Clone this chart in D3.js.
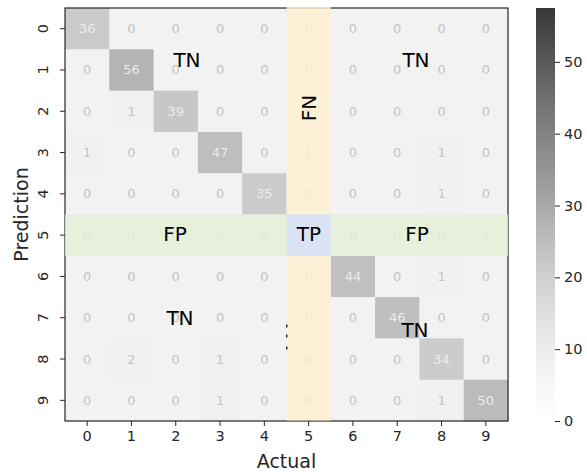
<!DOCTYPE html>
<html>
<head>
<meta charset="utf-8">
<script src="https://cdn.jsdelivr.net/npm/d3@7"></script>
<style>
  body { margin: 0; background: #fff; }
  svg { display: block; font-family: "DejaVu Sans", sans-serif; }
</style>
</head>
<body>
<svg id="chart" width="587" height="472"></svg>
<script>
// class labels (actual on x, prediction on y)
const classes = ['0', '1', '2', '3', '4', '5', '6', '7', '8', '9'];

// confusion matrix rows = prediction, cols = actual
const matrix = [
  [36, 0, 0, 0, 0, 0, 0, 0, 0, 0],
  [0, 56, 0, 0, 0, 0, 0, 0, 0, 0],
  [0, 1, 39, 0, 0, 0, 0, 0, 0, 0],
  [1, 0, 0, 47, 0, 1, 0, 0, 1, 0],
  [0, 0, 0, 0, 35, 0, 0, 0, 1, 0],
  [0, 0, 0, 0, 0, 0, 0, 0, 0, 1],
  [0, 0, 0, 0, 0, 0, 44, 0, 1, 0],
  [0, 0, 0, 0, 0, 0, 0, 46, 0, 0],
  [0, 2, 0, 1, 0, 0, 0, 0, 34, 0],
  [0, 0, 0, 1, 0, 0, 0, 0, 1, 50]
];

const cbarTicks = [0, 10, 20, 30, 40, 50];
const cbarMax = 57.5;

// annotation labels: [text, x px, baseline y px, rotated]
const regionLabels = [
  ['TN', 187, 67, false],
  ['TN', 416, 67, false],
  ['FN', 309, 108, true],
  ['FP', 175, 241, false],
  ['TP', 309, 241, false],
  ['FP', 417, 241, false],
  ['TN', 180, 325, false],
  ['TN', 415, 337, false]
];

const svg = d3.select('#chart');
const pl = 65, pr = 508, pt = 8, pb = 421;

const x = d3.scaleBand().domain(classes).range([pl, pr]);
const y = d3.scaleBand().domain(classes).range([pt, pb]);

const cellColor = d3.scaleLinear().domain([0, 56]).range(['#f2f2f2', '#b4b4b4']);

const cells = [];
matrix.forEach((row, i) => row.forEach((v, j) => cells.push({ r: classes[i], c: classes[j], v })));

svg.append('g').selectAll('rect')
  .data(cells)
  .join('rect')
  .attr('x', d => x(d.c))
  .attr('y', d => y(d.r))
  .attr('width', x.bandwidth() + 0.5)
  .attr('height', y.bandwidth() + 0.5)
  .attr('fill', d => cellColor(d.v));

svg.append('g').selectAll('text')
  .data(cells)
  .join('text')
  .attr('x', d => x(d.c) + x.bandwidth() / 2)
  .attr('y', d => y(d.r) + y.bandwidth() / 2)
  .attr('text-anchor', 'middle')
  .attr('dominant-baseline', 'central')
  .attr('font-size', 13)
  .attr('fill', d => d.v >= 20 ? '#ececec' : '#c4c4c4')
  .text(d => d.v);

// frame
svg.append('rect')
  .attr('x', pl).attr('y', pt)
  .attr('width', pr - pl).attr('height', pb - pt)
  .attr('fill', 'none').attr('stroke', '#262626').attr('stroke-width', 1.2);

// highlight bands for class 5
svg.append('rect')
  .attr('x', x('5')).attr('y', pt - 1)
  .attr('width', x.bandwidth()).attr('height', pb - pt + 0.5)
  .attr('fill', '#feefd1').attr('opacity', 0.82);
svg.append('rect')
  .attr('x', pl).attr('y', y('5'))
  .attr('width', pr - pl).attr('height', y.bandwidth())
  .attr('fill', '#e3efd6').attr('opacity', 0.82);
svg.append('rect')
  .attr('x', x('5')).attr('y', y('5'))
  .attr('width', x.bandwidth()).attr('height', y.bandwidth())
  .attr('fill', '#d9e3f3');

// small stray marks
[326, 336, 348].forEach(yy => {
  svg.append('rect').attr('x', x('5') - 0.5).attr('y', yy - 1.5)
    .attr('width', 1.5).attr('height', 3).attr('fill', '#333');
});

// region labels
svg.append('g').selectAll('text')
  .data(regionLabels)
  .join('text')
  .attr('transform', d => d[3] ? `translate(${d[1] + 7},${d[2]}) rotate(-90)` : `translate(${d[1]},${d[2]})`)
  .attr('text-anchor', 'middle')
  .attr('font-size', 20)
  .attr('fill', '#000')
  .text(d => d[0]);

// axes
const xAxis = svg.append('g')
  .attr('transform', `translate(0,${pb})`)
  .call(d3.axisBottom(x).tickSize(5).tickPadding(5));
xAxis.select('.domain').remove();
xAxis.selectAll('text').attr('font-size', 14.5).attr('fill', '#262626').attr('font-family', 'DejaVu Sans');
xAxis.selectAll('line').attr('stroke', '#262626');

const yAxis = svg.append('g')
  .attr('transform', `translate(${pl},0)`)
  .call(d3.axisLeft(y).tickSize(5).tickPadding(4));
yAxis.select('.domain').remove();
yAxis.selectAll('line').attr('stroke', '#262626');
yAxis.selectAll('text')
  .attr('font-size', 14.5).attr('fill', '#262626').attr('font-family', 'DejaVu Sans')
  .attr('text-anchor', 'middle').attr('dy', null).attr('x', null)
  .attr('transform', 'translate(-22,0) rotate(-90)')
  .attr('dominant-baseline', 'central');

svg.append('text')
  .attr('x', (pl + pr) / 2).attr('y', 468)
  .attr('text-anchor', 'middle').attr('font-size', 19).attr('fill', '#262626')
  .text('Actual');
svg.append('text')
  .attr('transform', `translate(28,${(pt + pb) / 2}) rotate(-90)`)
  .attr('text-anchor', 'middle').attr('font-size', 19).attr('fill', '#262626')
  .text('Prediction');

// colorbar
const cbX = 536, cbW = 19;
const cbY = d3.scaleLinear().domain([0, cbarMax]).range([pb, pt]);
const cbColor = t => {
  const g = d3.rgb(d3.interpolateGreys(t));
  const k = 0.78;
  return d3.rgb(255 - k * (255 - g.r), 255 - k * (255 - g.g), 255 - k * (255 - g.b)).formatHex();
};
const grad = svg.append('defs').append('linearGradient')
  .attr('id', 'cbgrad').attr('x1', 0).attr('y1', 1).attr('x2', 0).attr('y2', 0);
d3.range(0, 1.0001, 0.05).forEach(t => {
  grad.append('stop').attr('offset', t).attr('stop-color', cbColor(t));
});
svg.append('rect')
  .attr('x', cbX).attr('y', pt)
  .attr('width', cbW).attr('height', pb - pt)
  .attr('fill', 'url(#cbgrad)');
const cbAxis = svg.append('g')
  .attr('transform', `translate(${cbX + cbW},0)`)
  .call(d3.axisRight(cbY).tickValues(cbarTicks).tickSize(5).tickPadding(4));
cbAxis.select('.domain').remove();
cbAxis.selectAll('line').attr('stroke', '#262626');
cbAxis.selectAll('text').attr('font-size', 14.5).attr('fill', '#262626').attr('font-family', 'DejaVu Sans');
</script>
</body>
</html>
